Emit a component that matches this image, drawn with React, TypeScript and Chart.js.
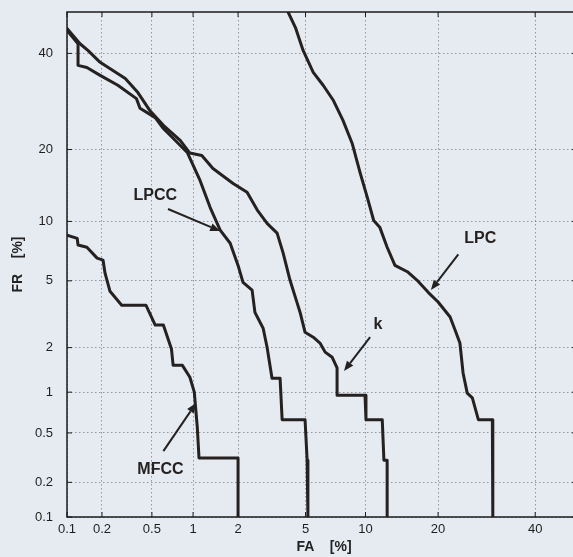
import React, { useEffect, useRef } from "react";
import { Chart, registerables } from "chart.js";

Chart.register(...registerables);

// ---- axis ticks (percent) ----
const TICK_VALUES = [0.1, 0.2, 0.5, 1, 2, 5, 10, 20, 40];
const TICK_LABELS = ["0.1", "0.2", "0.5", "1", "2", "5", "10", "20", "40"];
const AXIS_MIN = 0.1;
const AXIS_MAX = 50;

// ---- DET curves: FA [%] vs FR [%] ----
const LPC_FA = [4.0, 4.4, 4.85, 5.5, 6.2, 7.0, 7.8, 8.65, 9.45, 10.2, 10.9, 11.6, 12.5, 13.5, 15.2, 16.6, 18.4, 20.0, 22.1, 23.0, 23.9, 24.5, 25.3, 26.3, 27.5, 30.4, 30.5];
const LPC_FR = [50, 46.2, 40.7, 35.6, 32.7, 29.4, 25.4, 21.1, 16.2, 12.8, 10.1, 9.4, 7.5, 6.05, 5.6, 5.05, 4.3, 3.8, 3.1, 2.58, 2.14, 1.36, 0.985, 0.91, 0.63, 0.63, 0.1];

const K_FA = [0.1, 0.13, 0.152, 0.193, 0.31, 0.39, 0.48, 0.61, 0.81, 0.95, 1.15, 1.37, 1.86, 2.28, 2.63, 3.02, 3.46, 3.75, 4.1, 4.5, 4.67, 4.97, 5.5, 5.97, 6.35, 6.9, 7.3, 7.3, 9.95, 10.05, 11.9, 12.1, 12.5, 12.5];
const K_FR = [46, 42.3, 40.7, 37.9, 34.2, 31.1, 27.4, 24.4, 21.6, 19.4, 19.0, 16.9, 14.7, 13.5, 11.3, 9.8, 8.8, 7.0, 5.05, 3.74, 3.3, 2.5, 2.33, 2.14, 1.87, 1.73, 1.47, 0.95, 0.95, 0.63, 0.63, 0.305, 0.305, 0.1];

const LPCC_FA = [0.1, 0.125, 0.125, 0.149, 0.193, 0.27, 0.38, 0.405, 0.53, 0.61, 0.72, 0.91, 1.12, 1.31, 1.53, 1.78, 2.0, 2.15, 2.45, 2.55, 2.86, 3.02, 3.23, 3.6, 3.7, 4.97, 5.1, 5.15];
const LPCC_FR = [45.5, 42.3, 37.2, 36.7, 34.9, 32.7, 29.8, 27.8, 25.9, 23.8, 22.0, 19.5, 15.1, 11.6, 9.1, 7.85, 6.05, 4.9, 4.44, 3.3, 2.65, 2.01, 1.25, 1.25, 0.63, 0.63, 0.305, 0.1];

const MFCC_FA = [0.1, 0.123, 0.125, 0.149, 0.182, 0.204, 0.212, 0.233, 0.29, 0.45, 0.53, 0.61, 0.70, 0.72, 0.84, 0.95, 1.02, 1.07, 1.1, 2.0, 2.0];
const MFCC_FR = [8.6, 8.3, 7.7, 7.5, 6.6, 6.45, 5.5, 4.37, 3.64, 3.64, 2.77, 2.77, 1.96, 1.53, 1.53, 1.27, 1.0, 0.555, 0.318, 0.318, 0.1];

// ---- annotations (label, text position, arrow from, arrow to) in FA/FR percent ----
const NOTE_LABELS = ["LPCC", "LPC", "k", "MFCC"];
const NOTE_TEXT_FA = [0.53, 27.9, 11.4, 0.58];
const NOTE_TEXT_FR = [13, 8.3, 2.77, 0.253];
const NOTE_FROM_FA = [0.66, 23.6, 10.5, 0.61];
const NOTE_FROM_FR = [11.4, 6.9, 2.33, 0.36];
const NOTE_TO_FA = [1.53, 18.8, 7.9, 1.05];
const NOTE_TO_FR = [9.0, 4.44, 1.4, 0.835];

const X_TITLE = "FA    [%]";
const Y_TITLE = "FR    [%]";

// inverse normal CDF (Acklam), argument in percent
function probit(pct: number): number {
  const p = pct / 100;
  const a = [-3.969683028665376e1, 2.209460984245205e2, -2.759285104469687e2, 1.38357751867269e2, -3.066479806614716e1, 2.506628277459239];
  const b = [-5.447609879822406e1, 1.615858368580409e2, -1.556989798598866e2, 6.680131188771972e1, -1.328068155288572e1];
  const c = [-7.784894002430293e-3, -3.223964580411365e-1, -2.400758277161838, -2.549732539343734, 4.374664141464968, 2.938163982698783];
  const d = [7.784695709041462e-3, 3.224671290700398e-1, 2.445134137142996, 3.754408661907416];
  const plow = 0.02425;
  const phigh = 1 - plow;
  if (p < plow) {
    const q = Math.sqrt(-2 * Math.log(p));
    return (((((c[0] * q + c[1]) * q + c[2]) * q + c[3]) * q + c[4]) * q + c[5]) / ((((d[0] * q + d[1]) * q + d[2]) * q + d[3]) * q + 1);
  }
  if (p <= phigh) {
    const q = p - 0.5;
    const r = q * q;
    return ((((((a[0] * r + a[1]) * r + a[2]) * r + a[3]) * r + a[4]) * r + a[5]) * q) / (((((b[0] * r + b[1]) * r + b[2]) * r + b[3]) * r + b[4]) * r + 1);
  }
  const q = Math.sqrt(-2 * Math.log(1 - p));
  return -(((((c[0] * q + c[1]) * q + c[2]) * q + c[3]) * q + c[4]) * q + c[5]) / ((((d[0] * q + d[1]) * q + d[2]) * q + d[3]) * q + 1);
}

const toPoints = (fa: number[], fr: number[]) => fa.map((v, i) => ({ x: probit(v), y: probit(fr[i]) }));

const FONT = "'Liberation Sans', Arial, sans-serif";
const INK = "#242120";
const BG = "#e6ebf1";

const overlay = {
  id: "overlay",
  afterDatasetsDraw(chart: any) {
    const { ctx, chartArea: a, scales } = chart;
    const xs = scales.x;
    const ys = scales.y;
    ctx.save();
    // frame
    ctx.strokeStyle = "#1c1c1c";
    ctx.lineWidth = 1.5;
    ctx.strokeRect(a.left, a.top, a.right - a.left, a.bottom - a.top);
    // inward tick marks
    ctx.lineWidth = 1;
    ctx.beginPath();
    TICK_VALUES.forEach((t) => {
      const px = xs.getPixelForValue(probit(t));
      ctx.moveTo(px, a.bottom);
      ctx.lineTo(px, a.bottom - 5);
      ctx.moveTo(px, a.top);
      ctx.lineTo(px, a.top + 5);
      const py = ys.getPixelForValue(probit(t));
      ctx.moveTo(a.left, py);
      ctx.lineTo(a.left + 5, py);
      ctx.moveTo(a.right, py);
      ctx.lineTo(a.right - 5, py);
    });
    ctx.stroke();

    // annotations
    ctx.fillStyle = INK;
    ctx.strokeStyle = INK;
    ctx.font = `bold 16px ${FONT}`;
    ctx.textAlign = "center";
    ctx.textBaseline = "middle";
    NOTE_LABELS.forEach((label, i) => {
      const tx = xs.getPixelForValue(probit(NOTE_TEXT_FA[i]));
      const ty = ys.getPixelForValue(probit(NOTE_TEXT_FR[i]));
      ctx.fillText(label, tx, ty);
      const x1 = xs.getPixelForValue(probit(NOTE_FROM_FA[i]));
      const y1 = ys.getPixelForValue(probit(NOTE_FROM_FR[i]));
      const x2 = xs.getPixelForValue(probit(NOTE_TO_FA[i]));
      const y2 = ys.getPixelForValue(probit(NOTE_TO_FR[i]));
      const ang = Math.atan2(y2 - y1, x2 - x1);
      const head = 10;
      const hw = 4;
      const bx = x2 - head * Math.cos(ang);
      const by = y2 - head * Math.sin(ang);
      ctx.lineWidth = 2;
      ctx.beginPath();
      ctx.moveTo(x1, y1);
      ctx.lineTo(bx, by);
      ctx.stroke();
      ctx.beginPath();
      ctx.moveTo(x2, y2);
      ctx.lineTo(bx + hw * Math.sin(ang), by - hw * Math.cos(ang));
      ctx.lineTo(bx - hw * Math.sin(ang), by + hw * Math.cos(ang));
      ctx.closePath();
      ctx.fill();
    });

    // axis titles
    ctx.font = `bold 14px ${FONT}`;
    ctx.fillStyle = "#222";
    ctx.textAlign = "center";
    ctx.textBaseline = "middle";
    ctx.fillText(X_TITLE, (a.left + a.right) / 2 + 2, a.bottom + 30);
    ctx.save();
    ctx.translate(18, (a.top + a.bottom) / 2);
    ctx.rotate(-Math.PI / 2);
    ctx.fillText(Y_TITLE, 0, 0);
    ctx.restore();
    ctx.restore();
  },
};

export default function App() {
  const ref = useRef<HTMLCanvasElement | null>(null);

  useEffect(() => {
    if (!ref.current) return;
    const lineStyle = {
      borderColor: INK,
      borderWidth: 3,
      pointRadius: 0,
      tension: 0,
      fill: false,
      borderJoinStyle: "round" as const,
      borderCapStyle: "round" as const,
    };
    const tickVals = TICK_VALUES.map((t) => ({ value: probit(t) }));
    const axisCommon = {
      type: "linear" as const,
      min: probit(AXIS_MIN),
      max: probit(AXIS_MAX),
      grid: {
        color: "rgba(85,92,108,0.6)",
        lineWidth: 1,
        drawTicks: false,
      },
      border: { display: false, dash: [1.5, 2.5] },
      afterBuildTicks: (s: any) => {
        s.ticks = tickVals.map((t) => ({ ...t }));
      },
    };
    const chart = new Chart(ref.current, {
      type: "line",
      data: {
        datasets: [
          { label: "LPC", data: toPoints(LPC_FA, LPC_FR), ...lineStyle },
          { label: "k", data: toPoints(K_FA, K_FR), ...lineStyle },
          { label: "LPCC", data: toPoints(LPCC_FA, LPCC_FR), ...lineStyle },
          { label: "MFCC", data: toPoints(MFCC_FA, MFCC_FR), ...lineStyle },
        ],
      },
      options: {
        animation: false,
        responsive: false,
        devicePixelRatio: 1,
        layout: { padding: { left: 0, top: 12, right: 13, bottom: 0 } },
        plugins: { legend: { display: false }, tooltip: { enabled: false } },
        scales: {
          x: {
            ...axisCommon,
            position: "bottom",
            afterFit: (s: any) => {
              s.height = 40;
              s.paddingLeft = 0;
              s.paddingRight = 0;
            },
            ticks: {
              autoSkip: false,
              maxRotation: 0,
              padding: 5,
              color: "#1e1e1e",
              font: { family: FONT, size: 13 },
              callback: (_v: any, i: number) => TICK_LABELS[i],
            },
          },
          y: {
            ...axisCommon,
            position: "left",
            afterFit: (s: any) => {
              s.width = 67;
              s.paddingTop = 0;
              s.paddingBottom = 0;
            },
            ticks: {
              autoSkip: false,
              padding: 14,
              color: "#1e1e1e",
              font: { family: FONT, size: 13 },
              callback: (_v: any, i: number) => TICK_LABELS[i],
            },
          },
        },
      },
      plugins: [overlay],
    });
    return () => chart.destroy();
  }, []);

  return (
    <div
      style={{
        position: "fixed",
        left: 0,
        top: 0,
        width: 573,
        height: 557,
        overflow: "hidden",
        background: BG,
      }}
    >
      <canvas ref={ref} width={590} height={557} style={{ display: "block" }} />
    </div>
  );
}
